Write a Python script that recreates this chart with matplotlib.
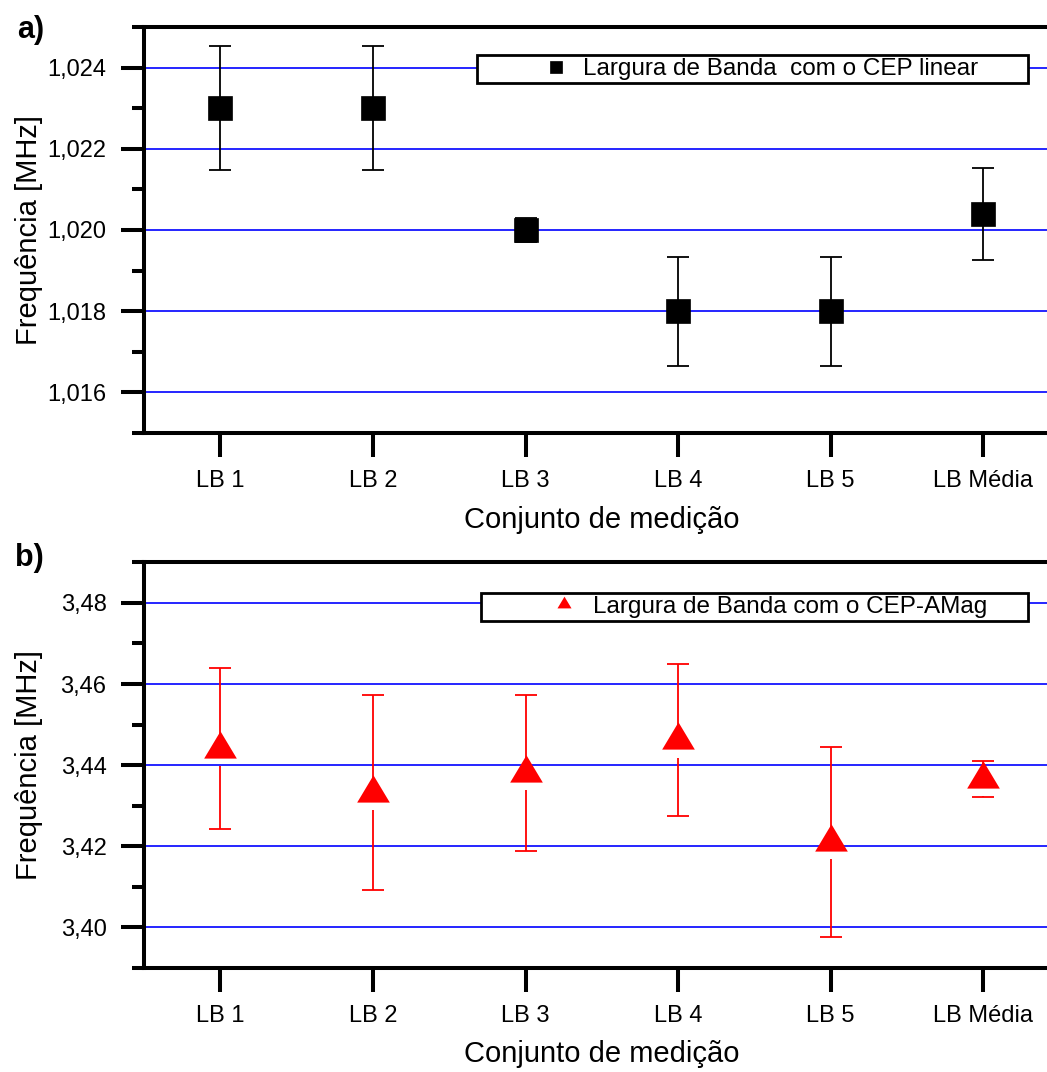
import matplotlib
matplotlib.use("Agg")
import matplotlib.pyplot as plt
from matplotlib.path import Path
from matplotlib.ticker import FixedLocator, MultipleLocator, FuncFormatter
import numpy as np

plt.rcParams['font.family'] = ['Liberation Sans', 'DejaVu Sans']

# ---- data ----
categories = ['LB 1', 'LB 2', 'LB 3', 'LB 4', 'LB 5', 'LB Média']
cep_linear = [1.0230, 1.0230, 1.0200, 1.0180, 1.0180, 1.02040]
cep_linear_err = [0.00152, 0.00152, 0.0003, 0.00134, 0.00134, 0.00113]
cep_amag = [3.4441, 3.4332, 3.4381, 3.4461, 3.4211, 3.4366]
cep_amag_err = [0.0199, 0.0240, 0.01925, 0.01875, 0.0234, 0.0044]

W, H = 1047, 1072
fig = plt.figure(figsize=(W / 100, H / 100), dpi=100)

# triangle with its centroid on the data point (Origin style)
tri = Path([(0, 18.2), (-16.35, -9.1), (16.35, -9.1), (0, 18.2)], closed=True)

x = np.arange(1, len(categories) + 1)


def draw_bars(ax, y, err, gap, color):
    y = np.asarray(y)
    err = np.asarray(err)
    ax.vlines(x, y, y + err, color=color, lw=1.3, zorder=2)
    ax.vlines(x, y - err, y - np.minimum(gap, err), color=color, lw=1.3, zorder=2)
    ax.plot(x, y + err, ls='none', marker='_', ms=15.8, mew=1.3, color=color, zorder=2)
    ax.plot(x, y - err, ls='none', marker='_', ms=15.8, mew=1.3, color=color, zorder=2)


def style_axes(ax, major, minor, fmt):
    ax.set_xlim(0.5, 6.5)
    ax.xaxis.set_major_locator(FixedLocator(x))
    ax.set_xticklabels(categories)
    ax.yaxis.set_major_locator(MultipleLocator(major))
    ax.yaxis.set_minor_locator(MultipleLocator(minor))
    ax.yaxis.set_major_formatter(FuncFormatter(lambda v, p: fmt.format(v).replace('.', ',')))
    ax.grid(axis='y', which='major', color='#0000ff', lw=1.2)
    ax.set_axisbelow(True)
    for s in ('left', 'top', 'bottom'):
        ax.spines[s].set_linewidth(2.9)
    ax.spines['right'].set_visible(False)
    ax.tick_params(axis='y', which='major', direction='out', length=16.5, width=2.9,
                   labelsize=17, pad=10.5)
    ax.tick_params(axis='y', which='minor', direction='out', length=8.6, width=2.9)
    ax.tick_params(axis='x', which='major', direction='out', length=17.3, width=2.9,
                   labelsize=17, pad=9)
    ax.set_ylabel('Frequência [MHz]', fontsize=21)
    ax.yaxis.set_label_coords(-0.1103, 0.5)
    ax.set_xlabel('Conjunto de medição', fontsize=21)
    ax.xaxis.set_label_coords(0.5, -0.1786)


def legend(ax, left, right, top, bottom, hl, htp, mscale):
    leg = ax.legend(loc='center', mode='expand', bbox_to_anchor=(
        left / W, 1 - bottom / H, (right - left) / W, (bottom - top) / H),
        bbox_transform=fig.transFigure, borderaxespad=0, borderpad=0.13,
        handlelength=hl, handletextpad=htp, markerscale=mscale,
        fontsize=17.5, fancybox=False, framealpha=1, edgecolor='black')
    leg.get_frame().set_linewidth(2)


# ---------------- a) CEP linear ----------------
ax1 = fig.add_axes([144 / W, 1 - 433 / H, 915.6 / W, 406 / H])
ax1.set_ylim(1.015, 1.025)
draw_bars(ax1, cep_linear, cep_linear_err, 0, 'black')
ax1.plot(x, cep_linear, ls='none', marker='s', ms=17.3, mew=0.5, color='black',
         zorder=3, label='Largura de Banda  com o CEP linear')
style_axes(ax1, 0.002, 0.001, '{:.3f}')
legend(ax1, 477, 1027.5, 54.3, 84.3, 6.2, -1.96, 0.46)

# ---------------- b) CEP-AMag ----------------
ax2 = fig.add_axes([144 / W, 1 - 968 / H, 915.6 / W, 405.7 / H])
ax2.set_ylim(3.39, 3.49)
draw_bars(ax2, cep_amag, cep_amag_err, 0.00431, 'red')
ax2.plot(x, cep_amag, ls='none', marker=tri, ms=26.2, mew=0, color='red',
         zorder=3, label='Largura de Banda com o CEP-AMag')
style_axes(ax2, 0.02, 0.01, '{:.2f}')
legend(ax2, 481, 1027.5, 591.7, 621.7, 6.53, -2.07, 0.43)

fig.text(17 / W, 1 - 38 / H, 'a)', fontsize=22, weight='bold', va='baseline')
fig.text(15 / W, 1 - 566 / H, 'b)', fontsize=22, weight='bold', va='baseline')

fig.savefig('out.png', dpi=100)
